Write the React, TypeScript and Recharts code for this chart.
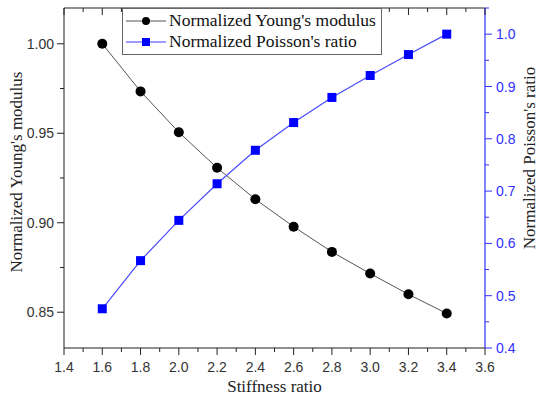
import React from "react"
import { ComposedChart, Line, XAxis, YAxis, Legend } from "recharts"

// values
const stiffness = [1.6, 1.8, 2.0, 2.2, 2.4, 2.6, 2.8, 3.0, 3.2, 3.4]
const youngs = [1.0, 0.9734, 0.9506, 0.9307, 0.9131, 0.8978, 0.8837, 0.8716, 0.86, 0.8493]
const poissons = [0.475, 0.567, 0.644, 0.714, 0.778, 0.831, 0.879, 0.921, 0.961, 1.0]

const xTicks = [1.4, 1.5, 1.6, 1.7, 1.8, 1.9, 2.0, 2.1, 2.2, 2.3, 2.4, 2.5, 2.6, 2.7, 2.8, 2.9, 3.0, 3.1, 3.2, 3.3, 3.4, 3.5, 3.6]
const xMajor = [1.4, 1.6, 1.8, 2.0, 2.2, 2.4, 2.6, 2.8, 3.0, 3.2, 3.4, 3.6]
const leftTicks = [0.85, 0.875, 0.9, 0.925, 0.95, 0.975, 1.0]
const leftMajor = [0.85, 0.9, 0.95, 1.0]
const rightTicks = [0.4, 0.45, 0.5, 0.55, 0.6, 0.65, 0.7, 0.75, 0.8, 0.85, 0.9, 0.95, 1.0, 1.05]
const rightMajor = [0.4, 0.5, 0.6, 0.7, 0.8, 0.9, 1.0]

const data = stiffness.map((s, i) => ({ s, young: youngs[i], poisson: poissons[i] }))

const SANS = "'Liberation Sans', Arial, sans-serif"
const SERIF = "'Liberation Serif', 'Times New Roman', serif"
const BLUE = "#3030ff"

const MARGIN_TOP = 7
const TOP_AXIS_H = 1
const PLOT_TOP = MARGIN_TOP + TOP_AXIS_H

const isIn = (list: number[], v: number) => list.some((m) => Math.abs(m - v) < 1e-9)

// bottom ticks + labels, and the mirrored inward ticks on the top frame
const BottomTick = (props: any) => {
  const { x, y, payload } = props
  const major = isIn(xMajor, payload.value)
  const len = major ? 7 : 4
  return (
    <g>
      <line x1={x} x2={x} y1={y} y2={y + len} stroke="#222" />
      <line x1={x} x2={x} y1={PLOT_TOP} y2={PLOT_TOP + len} stroke="#222" />
      {major && (
        <text x={x} y={y + 24} textAnchor="middle" fontSize={14} fontFamily={SANS} fill="#333">
          {payload.value.toFixed(1)}
        </text>
      )}
    </g>
  )
}

const LeftTick = (props: any) => {
  const { x, y, payload } = props
  const major = isIn(leftMajor, payload.value)
  return (
    <g>
      <line x1={x - (major ? 7 : 4)} x2={x} y1={y} y2={y} stroke="#222" />
      {major && (
        <text x={x - 10} y={y} dy="0.36em" textAnchor="end" fontSize={14} fontFamily={SANS} fill="#333">
          {payload.value.toFixed(2)}
        </text>
      )}
    </g>
  )
}

const RightTick = (props: any) => {
  const { x, y, payload } = props
  const major = isIn(rightMajor, payload.value)
  return (
    <g>
      <line x1={x} x2={x + (major ? 7 : 4)} y1={y} y2={y} stroke={BLUE} />
      {major && (
        <text x={x + 11} y={y} dy="0.36em" textAnchor="start" fontSize={14} fontFamily={SANS} fill={BLUE}>
          {payload.value.toFixed(1)}
        </text>
      )}
    </g>
  )
}

const Circle = (props: any) => {
  const { cx, cy, index } = props
  return <circle key={`c${index}`} cx={cx} cy={cy} r={5} fill="#000" />
}

const Square = (props: any) => {
  const { cx, cy, index } = props
  return <rect key={`q${index}`} x={cx - 4.5} y={cy - 4.5} width={9} height={9} fill="#0000ff" />
}

const LegendBox = () => (
  <div
    style={{
      border: "1px solid #666",
      background: "#fff",
      padding: "1px 0 2px 2px",
      fontFamily: SERIF,
      fontSize: 17.5,
      color: "#111",
      width: 260,
      boxSizing: "border-box",
      whiteSpace: "nowrap",
    }}
  >
    <div style={{ display: "flex", alignItems: "center", height: 21 }}>
      <svg width={44} height={12} style={{ flex: "none" }}>
        <line x1={1} x2={41} y1={6} y2={6} stroke="#555" />
        <circle cx={21} cy={6} r={4} fill="#000" />
      </svg>
      <span>Normalized Young's modulus</span>
    </div>
    <div style={{ display: "flex", alignItems: "center", height: 21 }}>
      <svg width={44} height={12} style={{ flex: "none" }}>
        <line x1={1} x2={41} y1={6} y2={6} stroke="#3a3aff" />
        <rect x={17} y={2} width={8} height={8} fill="#0000ff" />
      </svg>
      <span>Normalized Poisson's ratio</span>
    </div>
  </div>
)

const LeftTitle = (props: any) => {
  const { viewBox } = props
  const cx = 22
  const cy = viewBox.y + viewBox.height / 2 - 6
  return (
    <text x={cx} y={cy} transform={`rotate(-90, ${cx}, ${cy})`} textAnchor="middle" fontSize={17} fontFamily={SERIF} fill="#222">
      Normalized Young's modulus
    </text>
  )
}

const RightTitle = (props: any) => {
  const { viewBox } = props
  const cx = 535
  const cy = viewBox.y + viewBox.height / 2 - 20
  return (
    <text x={cx} y={cy} transform={`rotate(-90, ${cx}, ${cy})`} textAnchor="middle" fontSize={17} fontFamily={SERIF} fill="#222">
      Normalized Poisson's ratio
    </text>
  )
}

export default function App() {
  return (
    <div style={{ position: "absolute", left: 0, top: 0, width: 540, height: 403, background: "#fff" }}>
      <ComposedChart width={540} height={403} data={data} margin={{ top: MARGIN_TOP, right: 0, bottom: 0, left: 0 }}>
        <XAxis
          dataKey="s"
          type="number"
          domain={[1.4, 3.6]}
          ticks={xTicks}
          interval={0}
          height={55}
          tickSize={0}
          tickMargin={0}
          tick={<BottomTick />}
          tickLine={false}
          axisLine={{ stroke: "#222" }}
          label={{ value: "Stiffness ratio", position: "insideBottom", offset: 11, fontSize: 17, fontFamily: SERIF, fill: "#222" }}
        />
        {/* top frame line only */}
        <XAxis
          xAxisId="top"
          orientation="top"
          dataKey="s"
          type="number"
          domain={[1.4, 3.6]}
          height={TOP_AXIS_H}
          tick={false}
          tickLine={false}
          axisLine={{ stroke: "#222" }}
        />
        <YAxis
          yAxisId="left"
          type="number"
          domain={[0.83, 1.02]}
          ticks={leftTicks}
          interval={0}
          width={64}
          tickSize={0}
          tickMargin={0}
          tick={<LeftTick />}
          tickLine={false}
          axisLine={{ stroke: "#222" }}
          label={<LeftTitle />}
        />
        <YAxis
          yAxisId="right"
          orientation="right"
          type="number"
          domain={[0.4, 1.05]}
          ticks={rightTicks}
          interval={0}
          width={55}
          tickSize={0}
          tickMargin={0}
          tick={<RightTick />}
          tickLine={false}
          axisLine={{ stroke: BLUE, strokeWidth: 1.2 }}
          label={<RightTitle />}
        />
        <Legend
          layout="vertical"
          align="center"
          verticalAlign="middle"
          wrapperStyle={{ left: 122, top: 8, width: 260 }}
          content={<LegendBox />}
        />
        <Line
          yAxisId="left"
          dataKey="young"
          stroke="#555"
          strokeWidth={1}
          dot={<Circle />}
          activeDot={false}
          isAnimationActive={false}
        />
        <Line
          yAxisId="right"
          dataKey="poisson"
          stroke="#4a4aff"
          strokeWidth={1.2}
          dot={<Square />}
          activeDot={false}
          isAnimationActive={false}
        />
      </ComposedChart>
    </div>
  )
}
